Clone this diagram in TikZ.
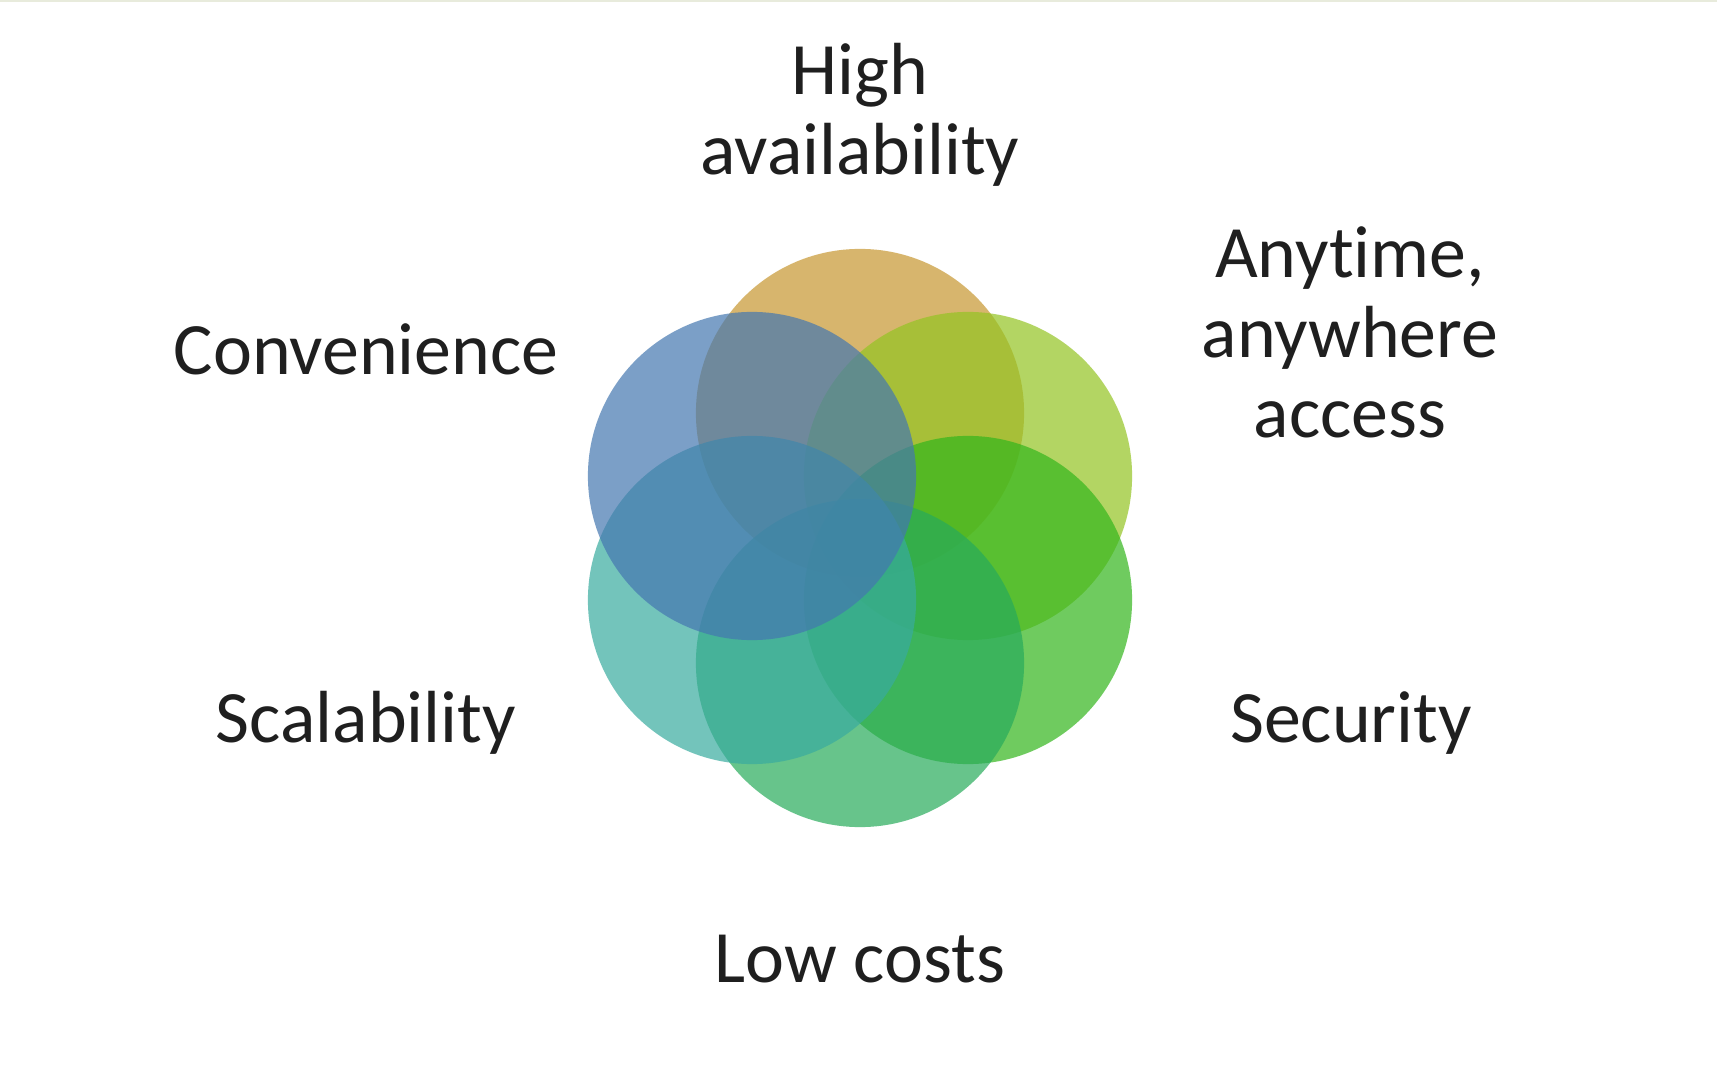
\documentclass[tikz,border=0pt]{standalone}
\usepackage{fontspec}
\setmainfont{Carlito}[Ligatures=NoCommon]
\usetikzlibrary{positioning}
\definecolor{avail}{RGB}{199,151,48}
\definecolor{access}{RGB}{148,196,34}
\definecolor{secure}{RGB}{51,182,28}
\definecolor{costs}{RGB}{39,171,91}
\definecolor{scale}{RGB}{56,171,159}
\definecolor{conv}{RGB}{68,119,176}
\definecolor{rule}{RGB}{232,235,220}

\begin{document}
\begin{tikzpicture}[
  x=0.01cm, y=-0.01cm,
  petal/.style={circle, minimum size=3.28cm, inner sep=0pt, fill opacity=0.7},
  lbl/.style={align=center, text=black!88, font=\fontsize{21}{22.8}\selectfont, inner sep=0pt, anchor=base}
]
\fill[white] (0,0) rectangle (1717,1091);
\fill[rule] (0,0) rectangle (1717,2);
\useasboundingbox (0,0) rectangle (1717,1091);
% petals, clockwise from the top
\node[petal, fill=avail] (high) at (860,413) {};
\node[petal, fill=access] (any) at (968,476) {};
\node[petal, fill=secure] (sec) at (968,600) {};
\node[petal, fill=costs] (low) at (860,663) {};
\node[petal, fill=scale] (scal) at (752,600) {};
\node[petal, fill=conv] (conv) at (752,476) {};
% labels (base = last line)
\node[lbl] (highlbl) at (860,175) {High\\availability};
\node[lbl] (anylbl) at (1350,438) {Anytime,\\anywhere\\access};
\node[lbl] (convlbl) at (366,375) {Convenience};
\node[lbl] (scallbl) at (366,742) {Scalability};
\node[lbl] (seclbl) at (1351,742) {Security};
\node[lbl] (lowlbl) at (860,982) {Low costs};
\end{tikzpicture}
\end{document}
